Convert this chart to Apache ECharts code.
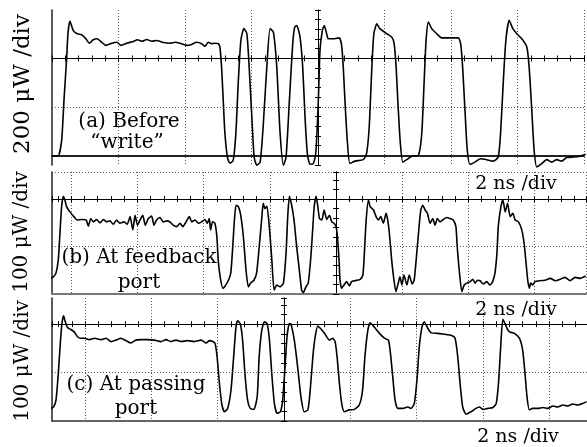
<!DOCTYPE html>
<html><head><meta charset="utf-8">
<script src="https://cdn.jsdelivr.net/npm/echarts@6/dist/echarts.min.js"></script>
<style>html,body{margin:0;padding:0;background:#fff}#c{width:587px;height:447px}</style>
</head><body><div id="c"></div>
<script>
// time (ns), optical power (μW)
const waveA = [[-8.00,-3],[-7.82,-3],[-7.71,62],[-7.64,227],[-7.56,399],[-7.52,503],[-7.46,554],[-7.36,515],[-7.24,502],[-7.11,498],[-6.98,481],[-6.88,463],[-6.76,477],[-6.64,481],[-6.51,467],[-6.38,454],[-6.20,463],[-6.05,467],[-5.93,454],[-5.75,463],[-5.55,470],[-5.43,477],[-5.30,471],[-5.15,478],[-5.00,471],[-4.85,474],[-4.65,466],[-4.45,463],[-4.30,467],[-4.15,463],[-3.95,454],[-3.80,458],[-3.65,467],[-3.50,461],[-3.40,450],[-3.30,467],[-3.20,461],[-3.10,463],[-3.00,461],[-2.95,447],[-2.90,364],[-2.85,227],[-2.80,91],[-2.72,-12],[-2.65,-32],[-2.55,-21],[-2.47,91],[-2.40,297],[-2.32,474],[-2.23,523],[-2.14,503],[-2.07,364],[-1.99,158],[-1.92,-7],[-1.84,-41],[-1.74,-28],[-1.65,117],[-1.54,364],[-1.44,523],[-1.34,508],[-1.24,364],[-1.14,91],[-1.04,-41],[-0.96,-7],[-0.86,227],[-0.76,461],[-0.70,530],[-0.64,536],[-0.54,488],[-0.46,364],[-0.39,158],[-0.32,7],[-0.24,-37],[-0.14,-34],[-0.06,21],[0.01,227],[0.06,433],[0.13,515],[0.19,536],[0.26,502],[0.31,481],[0.46,481],[0.64,485],[0.71,454],[0.76,364],[0.81,227],[0.88,62],[0.96,-34],[1.11,-24],[1.36,-18],[1.46,7],[1.54,117],[1.62,364],[1.68,502],[1.77,543],[1.86,523],[2.07,502],[2.22,488],[2.29,461],[2.35,364],[2.40,227],[2.47,62],[2.55,-28],[2.67,-18],[2.82,-4],[3.02,0],[3.12,89],[3.19,297],[3.25,474],[3.32,550],[3.42,523],[3.57,502],[3.72,485],[3.97,485],[4.22,485],[4.29,461],[4.35,364],[4.42,186],[4.49,21],[4.57,-37],[4.72,-28],[4.89,-14],[5.07,-18],[5.27,-24],[5.42,-7],[5.49,89],[5.57,297],[5.65,474],[5.75,557],[5.86,523],[5.98,502],[6.13,481],[6.28,447],[6.35,364],[6.43,186],[6.50,21],[6.58,-48],[6.73,-34],[6.88,-18],[7.03,-28],[7.18,-18],[7.33,-24],[7.48,-9],[7.68,-7],[7.88,-4],[8.05,4]];

const waveB = [[-8.64,33],[-8.54,36],[-8.46,44],[-8.39,72],[-8.34,128],[-8.29,184],[-8.24,206],[-8.19,198],[-8.14,184],[-8.04,173],[-7.92,163],[-7.82,156],[-7.68,157],[-7.55,156],[-7.48,143],[-7.41,159],[-7.33,152],[-7.23,157],[-7.13,150],[-7.03,157],[-6.93,152],[-6.83,154],[-6.73,147],[-6.63,156],[-6.53,149],[-6.40,152],[-6.31,147],[-6.22,163],[-6.14,135],[-6.07,166],[-6.00,145],[-5.92,156],[-5.84,166],[-5.76,145],[-5.67,159],[-5.57,164],[-5.50,145],[-5.42,156],[-5.32,161],[-5.22,152],[-5.11,154],[-5.02,152],[-4.92,145],[-4.81,142],[-4.71,149],[-4.63,142],[-4.53,152],[-4.43,163],[-4.36,152],[-4.26,156],[-4.16,149],[-4.06,152],[-3.96,157],[-3.89,149],[-3.83,159],[-3.79,135],[-3.73,152],[-3.66,149],[-3.60,121],[-3.56,72],[-3.50,36],[-3.42,12],[-3.35,17],[-3.25,29],[-3.18,44],[-3.12,100],[-3.07,156],[-3.02,187],[-2.95,184],[-2.88,166],[-2.80,121],[-2.72,51],[-2.65,15],[-2.58,23],[-2.48,29],[-2.40,44],[-2.32,100],[-2.24,163],[-2.20,191],[-2.15,180],[-2.09,185],[-2.02,145],[-1.94,72],[-1.87,8],[-1.79,19],[-1.69,15],[-1.59,23],[-1.51,86],[-1.46,163],[-1.41,206],[-1.34,187],[-1.27,156],[-1.19,100],[-1.11,51],[-1.04,8],[-0.99,3],[-0.91,15],[-0.84,23],[-0.76,79],[-0.70,142],[-0.66,184],[-0.60,206],[-0.55,184],[-0.50,159],[-0.43,156],[-0.36,177],[-0.28,157],[-0.20,166],[-0.13,152],[-0.06,149],[0.00,142],[0.04,121],[0.09,72],[0.12,29],[0.17,12],[0.24,19],[0.32,26],[0.40,17],[0.47,26],[0.57,28],[0.73,31],[0.81,40],[0.85,79],[0.91,156],[0.98,198],[1.03,184],[1.13,177],[1.21,163],[1.28,156],[1.35,163],[1.43,149],[1.51,170],[1.56,156],[1.61,128],[1.68,72],[1.75,29],[1.81,5],[1.88,23],[1.93,36],[1.99,19],[2.05,40],[2.14,19],[2.21,40],[2.30,21],[2.36,29],[2.42,72],[2.49,128],[2.56,177],[2.62,187],[2.69,177],[2.76,170],[2.84,149],[2.92,159],[2.99,145],[3.06,159],[3.14,152],[3.24,157],[3.34,161],[3.44,159],[3.54,156],[3.62,142],[3.66,100],[3.72,51],[3.80,5],[3.87,19],[3.95,23],[4.05,26],[4.13,31],[4.20,23],[4.27,29],[4.35,28],[4.45,21],[4.55,26],[4.65,19],[4.73,26],[4.80,44],[4.86,86],[4.90,142],[4.98,184],[5.04,198],[5.11,173],[5.18,191],[5.26,163],[5.34,170],[5.41,156],[5.51,152],[5.61,135],[5.68,107],[5.74,65],[5.79,29],[5.84,12],[5.88,23],[5.94,19],[6.01,26],[6.16,28],[6.31,29],[6.47,33],[6.62,28],[6.77,31],[6.92,35],[7.07,28],[7.22,35],[7.37,33],[7.54,38]];

const waveC = [[-7.03,26],[-6.95,29],[-6.88,43],[-6.81,98],[-6.75,160],[-6.70,201],[-6.65,217],[-6.60,205],[-6.53,193],[-6.43,189],[-6.33,184],[-6.23,174],[-6.13,171],[-6.01,171],[-5.88,168],[-5.72,171],[-5.52,168],[-5.37,171],[-5.22,164],[-5.07,167],[-4.92,171],[-4.77,166],[-4.62,161],[-4.47,167],[-4.32,168],[-4.11,168],[-3.91,167],[-3.71,164],[-3.56,168],[-3.41,164],[-3.26,167],[-3.11,164],[-2.91,166],[-2.71,164],[-2.50,167],[-2.35,161],[-2.25,166],[-2.15,164],[-2.08,160],[-2.02,133],[-1.95,78],[-1.88,36],[-1.80,19],[-1.70,26],[-1.60,64],[-1.52,133],[-1.45,194],[-1.40,207],[-1.32,201],[-1.25,167],[-1.18,98],[-1.10,43],[-1.02,26],[-0.91,24],[-0.81,50],[-0.75,133],[-0.67,188],[-0.59,205],[-0.51,201],[-0.44,167],[-0.37,98],[-0.29,36],[-0.21,16],[-0.11,19],[-0.04,43],[0.03,112],[0.09,174],[0.16,201],[0.21,200],[0.31,167],[0.41,112],[0.51,50],[0.61,19],[0.72,23],[0.79,64],[0.87,133],[0.94,174],[1.02,196],[1.10,191],[1.22,181],[1.37,167],[1.47,171],[1.54,164],[1.60,133],[1.67,78],[1.74,36],[1.82,19],[1.97,23],[2.12,24],[2.27,33],[2.37,64],[2.44,133],[2.53,188],[2.60,203],[2.72,194],[2.88,181],[3.03,171],[3.15,167],[3.21,140],[3.28,91],[3.35,43],[3.43,26],[3.58,26],[3.73,29],[3.83,26],[3.93,36],[4.01,85],[4.08,153],[4.16,194],[4.23,205],[4.34,191],[4.44,182],[4.64,181],[4.84,179],[5.04,177],[5.16,171],[5.24,133],[5.32,71],[5.39,29],[5.49,14],[5.64,19],[5.79,26],[5.89,29],[6.00,24],[6.15,26],[6.30,28],[6.40,36],[6.47,78],[6.53,146],[6.60,210],[6.67,201],[6.73,191],[6.80,184],[6.95,181],[7.10,171],[7.20,146],[7.27,98],[7.33,50],[7.40,23],[7.50,26],[7.66,26],[7.81,28],[7.96,26],[8.11,31],[8.26,29],[8.41,33],[8.56,31],[8.71,35],[8.86,33],[9.01,36],[9.13,40]];

const yScaleNames = ['200 μW /div', '100 μW /div', '100 μW /div'];
const panelNotes = [['(a) Before', '“write”'], ['(b) At feedback', 'port'], ['(c) At passing', 'port']];
const timeScaleName = '2 ns /div';
const timePerDiv = 2;                // ns
const powerPerDiv = [200, 100, 100]; // μW

// layout
const panels = [
  {wave: waveA, grid: {left: 52, top: 10, width: 532, height: 155}, x: [-8, 8], y: [-40, 600], div: [-2.2, 1], maxLine: false, bottomColor: '#222', bottomWidth: 2,
   name: {x: 23, y: 84, size: 23}, note: [{x: 129, y: 122}, {x: 127, y: 143}], tname: {x: 516, y: 184}},
  {wave: waveB, grid: {left: 52, top: 172, width: 534, height: 122}, x: [-8.58, 7.55], y: [0, 257], div: [-2, 0.57], maxLine: true, bottomColor: '#777', bottomWidth: 2,
   name: {x: 22, y: 232, size: 20}, note: [{x: 139, y: 258}, {x: 139, y: 283}], tname: {x: 516, y: 310}},
  {wave: waveC, grid: {left: 52, top: 298, width: 535, height: 123}, x: [-7, 9.14], y: [0, 254], div: [-2, 0.54], maxLine: false, bottomColor: '#333', bottomWidth: 1.5,
   name: {x: 23, y: 361, size: 20}, note: [{x: 136, y: 385}, {x: 136, y: 409}], tname: {x: 518, y: 437}}
];

const ink = '#000';
const dotted = {type: [1, 2], color: '#555', width: 1};
const FONT = '"DejaVu Serif", "Liberation Serif", serif';

const grids = [], xAxes = [], yAxes = [], series = [], graphics = [];
panels.forEach((p, i) => {
  grids.push(Object.assign({containLabel: false}, p.grid));
  const xi = xAxes.length, yi = yAxes.length;
  // centre horizontal line (ticks down) + vertical dotted grid
  xAxes.push({gridIndex: i, type: 'value', min: p.x[0], max: p.x[1], minInterval: timePerDiv, maxInterval: timePerDiv,
    position: 'bottom',
    axisLine: {show: true, onZero: true, onZeroAxisIndex: yi + 1, lineStyle: {color: ink, width: 1}},
    axisTick: {show: true, length: 3, lineStyle: {color: ink}},
    minorTick: {show: true, splitNumber: 5, length: 3, lineStyle: {color: ink}},
    axisLabel: {show: false},
    splitLine: {show: true, showMinLine: false, showMaxLine: true, lineStyle: dotted}});
  // centre horizontal line (ticks up)
  xAxes.push({gridIndex: i, type: 'value', min: p.x[0], max: p.x[1], minInterval: timePerDiv, maxInterval: timePerDiv,
    position: 'top',
    axisLine: {show: true, onZero: true, onZeroAxisIndex: yi + 1, lineStyle: {color: ink, width: 1}},
    axisTick: {show: true, length: 3, lineStyle: {color: ink}},
    minorTick: {show: true, splitNumber: 5, length: 3, lineStyle: {color: ink}},
    axisLabel: {show: false}, splitLine: {show: false}});
  // baseline at 0 μW
  xAxes.push({gridIndex: i, type: 'value', min: p.x[0], max: p.x[1], position: 'bottom',
    axisLine: {show: true, onZero: true, onZeroAxisIndex: yi, lineStyle: {color: p.bottomColor, width: p.bottomWidth}},
    axisTick: {show: false}, axisLabel: {show: false}, splitLine: {show: false}});
  // power axis: left border + horizontal dotted grid
  yAxes.push({gridIndex: i, type: 'value', min: p.y[0], max: p.y[1], minInterval: powerPerDiv[i], maxInterval: powerPerDiv[i],
    position: 'left',
    axisLine: {show: true, onZero: false, lineStyle: {color: '#222', width: 1.5}},
    axisTick: {show: false}, axisLabel: {show: false},
    splitLine: {show: true, showMinLine: false, showMaxLine: p.maxLine, lineStyle: dotted}});
  // centre vertical line with ticks on both sides
  ['left', 'right'].forEach(pos => {
    yAxes.push({gridIndex: i, type: 'value', min: p.div[0], max: p.div[1], minInterval: 1, maxInterval: 1,
      position: pos,
      axisLine: {show: true, onZero: true, onZeroAxisIndex: xi, lineStyle: {color: ink, width: 1}},
      axisTick: {show: true, length: 3, lineStyle: {color: ink}},
      minorTick: {show: true, splitNumber: 5, length: 3, lineStyle: {color: ink}},
      axisLabel: {show: false}, splitLine: {show: false}});
  });
  series.push({type: 'line', xAxisIndex: xi, yAxisIndex: yi, data: p.wave, symbol: 'none', showSymbol: false,
    clip: false, smooth: 0.2, z: 5, lineStyle: {color: ink, width: 1.6}, animation: false});

  graphics.push({type: 'text', x: p.name.x, y: p.name.y, rotation: Math.PI / 2, z: 10,
    style: {text: yScaleNames[i], font: p.name.size + 'px ' + FONT, fill: ink, textAlign: 'center', textVerticalAlign: 'middle'}});
  panelNotes[i].forEach((t, k) => {
    graphics.push({type: 'text', x: p.note[k].x, y: p.note[k].y, z: 10,
      style: {text: t, font: '20px ' + FONT, fill: ink, textAlign: 'center', textVerticalAlign: 'middle'}});
  });
  graphics.push({type: 'text', x: p.tname.x, y: p.tname.y, z: 10,
    style: {text: timeScaleName, font: '19px ' + FONT, fill: ink, textAlign: 'center', textVerticalAlign: 'middle'}});
});

const chart = echarts.init(document.getElementById('c'), null, {renderer: 'canvas'});
chart.setOption({
  animation: false,
  backgroundColor: '#fff',
  grid: grids, xAxis: xAxes, yAxis: yAxes, series: series, graphic: graphics
});
</script></body></html>
